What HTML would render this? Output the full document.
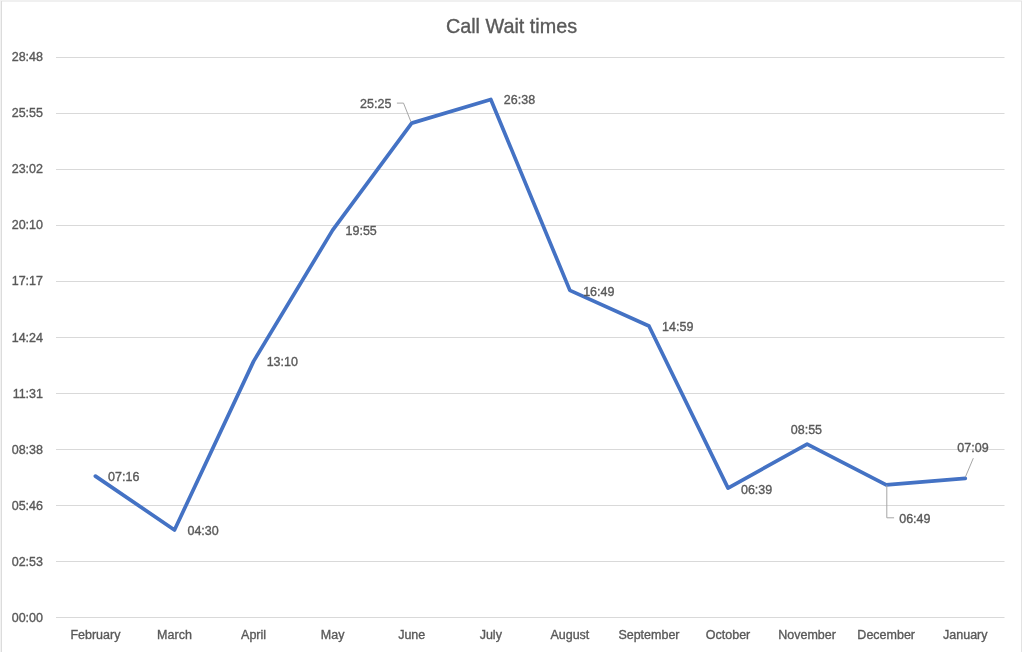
<!DOCTYPE html>
<html><head><meta charset="utf-8"><style>
html,body{margin:0;padding:0;background:#fff;}
svg{display:block;}
text{font-family:"Liberation Sans",sans-serif;fill:#595959;stroke:#595959;stroke-width:0.35px;}
svg{will-change:transform;}
</style></head><body>
<svg width="1024" height="652" viewBox="0 0 1024 652">
<rect x="0" y="0" width="1024" height="652" fill="#ffffff"/>
<rect x="0" y="0" width="1022" height="2" fill="#f0f0f0"/>
<rect x="0" y="0" width="1" height="652" fill="#f2f2f2"/>
<rect x="1" y="1" width="1" height="651" fill="#dcdcdc"/>
<rect x="1021" y="1" width="1" height="651" fill="#e3e3e3"/>

<text x="511.5" y="32.5" text-anchor="middle" font-size="19.8">Call Wait times</text>
<line x1="56" y1="617.5" x2="1004.5" y2="617.5" stroke="#d9d9d9" stroke-width="1"/>
<text x="43" y="621.60" text-anchor="end" font-size="12.5">00:00</text>
<line x1="56" y1="561.5" x2="1004.5" y2="561.5" stroke="#d9d9d9" stroke-width="1"/>
<text x="43" y="565.58" text-anchor="end" font-size="12.5">02:53</text>
<line x1="56" y1="505.5" x2="1004.5" y2="505.5" stroke="#d9d9d9" stroke-width="1"/>
<text x="43" y="509.56" text-anchor="end" font-size="12.5">05:46</text>
<line x1="56" y1="449.5" x2="1004.5" y2="449.5" stroke="#d9d9d9" stroke-width="1"/>
<text x="43" y="453.54" text-anchor="end" font-size="12.5">08:38</text>
<line x1="56" y1="393.5" x2="1004.5" y2="393.5" stroke="#d9d9d9" stroke-width="1"/>
<text x="43" y="397.52" text-anchor="end" font-size="12.5">11:31</text>
<line x1="56" y1="337.5" x2="1004.5" y2="337.5" stroke="#d9d9d9" stroke-width="1"/>
<text x="43" y="341.50" text-anchor="end" font-size="12.5">14:24</text>
<line x1="56" y1="281.5" x2="1004.5" y2="281.5" stroke="#d9d9d9" stroke-width="1"/>
<text x="43" y="285.48" text-anchor="end" font-size="12.5">17:17</text>
<line x1="56" y1="225.5" x2="1004.5" y2="225.5" stroke="#d9d9d9" stroke-width="1"/>
<text x="43" y="229.46" text-anchor="end" font-size="12.5">20:10</text>
<line x1="56" y1="169.5" x2="1004.5" y2="169.5" stroke="#d9d9d9" stroke-width="1"/>
<text x="43" y="173.44" text-anchor="end" font-size="12.5">23:02</text>
<line x1="56" y1="113.5" x2="1004.5" y2="113.5" stroke="#d9d9d9" stroke-width="1"/>
<text x="43" y="117.42" text-anchor="end" font-size="12.5">25:55</text>
<line x1="56" y1="57.5" x2="1004.5" y2="57.5" stroke="#d9d9d9" stroke-width="1"/>
<text x="43" y="61.40" text-anchor="end" font-size="12.5">28:48</text>
<text x="95.40" y="639.2" text-anchor="middle" font-size="12.5">February</text>
<text x="174.48" y="639.2" text-anchor="middle" font-size="12.5">March</text>
<text x="253.56" y="639.2" text-anchor="middle" font-size="12.5">April</text>
<text x="332.64" y="639.2" text-anchor="middle" font-size="12.5">May</text>
<text x="411.72" y="639.2" text-anchor="middle" font-size="12.5">June</text>
<text x="490.80" y="639.2" text-anchor="middle" font-size="12.5">July</text>
<text x="569.88" y="639.2" text-anchor="middle" font-size="12.5">August</text>
<text x="648.96" y="639.2" text-anchor="middle" font-size="12.5">September</text>
<text x="728.04" y="639.2" text-anchor="middle" font-size="12.5">October</text>
<text x="807.12" y="639.2" text-anchor="middle" font-size="12.5">November</text>
<text x="886.20" y="639.2" text-anchor="middle" font-size="12.5">December</text>
<text x="965.28" y="639.2" text-anchor="middle" font-size="12.5">January</text>
<path d="M95.40,476.15 L174.48,529.97 L253.56,361.39 L332.64,230.09 L411.72,123.11 L490.80,99.44 L569.88,290.39 L648.96,326.05 L728.04,488.15 L807.12,444.06 L886.20,484.91 L965.28,478.42" fill="none" stroke="#4472c4" stroke-width="3.7" stroke-linejoin="round" stroke-linecap="round"/>
<polyline points="396.9,103.1 403.5,103.1 410.9,121.7" fill="none" stroke="#a6a6a6" stroke-width="1"/>
<polyline points="886.8,485.2 886.8,517.8 894.1,517.8" fill="none" stroke="#a6a6a6" stroke-width="1"/>
<polyline points="965.3,477.2 973.3,458.2" fill="none" stroke="#a6a6a6" stroke-width="1"/>
<text x="123.75" y="481.25" text-anchor="middle" font-size="12.5">07:16</text>
<text x="203.1" y="535.2" text-anchor="middle" font-size="12.5">04:30</text>
<text x="282.3" y="366.3" text-anchor="middle" font-size="12.5">13:10</text>
<text x="361.15" y="235.3" text-anchor="middle" font-size="12.5">19:55</text>
<text x="375.75" y="108" text-anchor="middle" font-size="12.5">25:25</text>
<text x="519.5" y="104.4" text-anchor="middle" font-size="12.5">26:38</text>
<text x="598.8" y="295.6" text-anchor="middle" font-size="12.5">16:49</text>
<text x="677.75" y="331" text-anchor="middle" font-size="12.5">14:59</text>
<text x="756.6" y="493.7" text-anchor="middle" font-size="12.5">06:39</text>
<text x="806.4" y="434.1" text-anchor="middle" font-size="12.5">08:55</text>
<text x="914.85" y="523.2" text-anchor="middle" font-size="12.5">06:49</text>
<text x="973" y="452.3" text-anchor="middle" font-size="12.5">07:09</text>
</svg></body></html>
